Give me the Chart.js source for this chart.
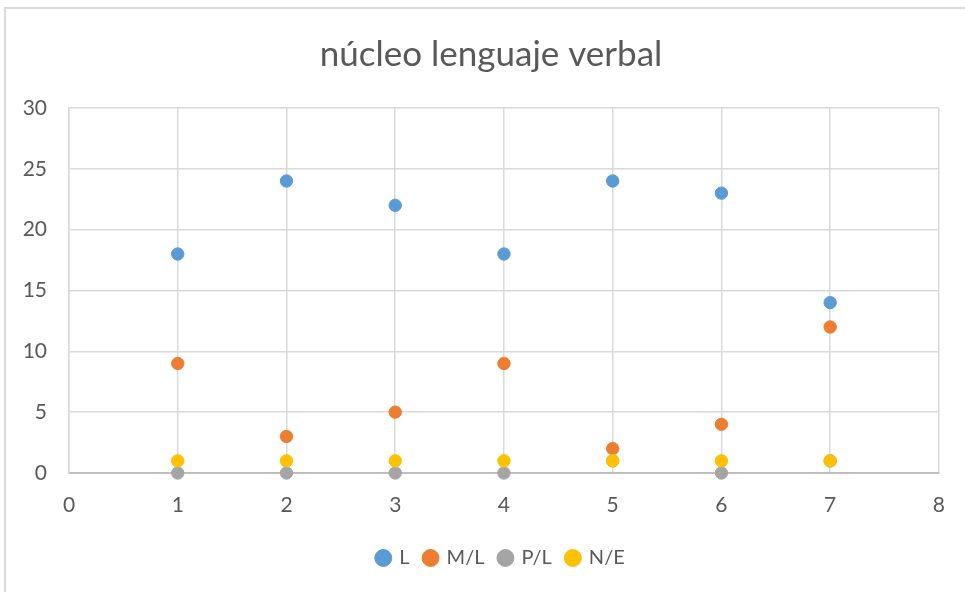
<!DOCTYPE html>
<html>
<head>
<meta charset="utf-8">
<script src="https://cdn.jsdelivr.net/npm/chart.js@4/dist/chart.umd.min.js"></script>
<style>
  body { margin: 0; background: #fff; }
  #wrap { position: absolute; left: 4px; top: 7px; width: 975px; height: 600px; border: 2px solid #d9d9d9; }
  #c { display: block; }
</style>
</head>
<body>
<div id="wrap"><canvas id="c" width="959" height="583"></canvas></div>
<script>
const xValues = [1, 2, 3, 4, 5, 6, 7];
const serieL  = [18, 24, 22, 18, 24, 23, 14];
const serieML = [9, 3, 5, 9, 2, 4, 12];
const seriePL = [0, 0, 0, 0, 1, 0, 1];
const serieNE = [1, 1, 1, 1, 1, 1, 1];

function pts(ys) {
    return ys.map((y, i) => ({ x: xValues[i], y: y }));
}

const txt = '#595959';
const font = 'Lato, "Open Sans", sans-serif';

function ds(label, ys, color, order) {
    return {
        label: label,
        data: pts(ys),
        backgroundColor: color,
        borderColor: color,
        pointRadius: 6.2,
        pointHoverRadius: 6.2,
        clip: false,
        order: order
    };
}

// Excel centres title and legend on the whole frame, not the plot
const shiftBoxes = {
    id: 'shiftBoxes',
    afterLayout(chart) {
        chart.legend.left += 28;
        chart.legend.right += 28;
        chart.titleBlock.left += 18;
        chart.titleBlock.right += 18;
    }
};

new Chart(document.getElementById('c').getContext('2d'), {
    type: 'scatter',
    data: {
        datasets: [
            ds('L', serieL, '#5B9BD5', 3),
            ds('M/L', serieML, '#ED7D31', 2),
            ds('P/L', seriePL, '#A5A5A5', 1),
            ds('N/E', serieNE, '#FFC000', 0)
        ]
    },
    plugins: [shiftBoxes],
    options: {
        responsive: false,
        animation: false,
        layout: { padding: { left: 0, right: 25, top: 0, bottom: 14 } },
        plugins: {
            title: {
                display: true,
                text: 'núcleo lenguaje verbal',
                color: txt,
                font: { family: font, size: 35, weight: 'normal' },
                padding: { top: 25, bottom: 32 }
            },
            legend: {
                position: 'bottom',
                labels: {
                    usePointStyle: true,
                    pointStyle: 'circle',
                    boxWidth: 12,
                    boxHeight: 12,
                    padding: 15,
                    color: txt,
                    font: { family: font, size: 20 },
                    sort: (a, b) => a.datasetIndex - b.datasetIndex
                }
            },
            tooltip: { enabled: false }
        },
        scales: {
            x: {
                type: 'linear',
                min: 0,
                max: 8,
                afterFit: s => { s.height = 60; },
                ticks: { stepSize: 1, color: txt, padding: 20, font: { family: font, size: 21 } },
                grid: { color: '#d9d9d9', lineWidth: 1.5, drawTicks: false },
                border: { color: '#bfbfbf', width: 2 }
            },
            y: {
                min: 0,
                max: 30,
                afterFit: s => { s.width = 63; },
                ticks: { stepSize: 5, color: txt, padding: 22, font: { family: font, size: 21 } },
                grid: { color: '#d9d9d9', lineWidth: 1.5, drawTicks: false },
                border: { color: '#d9d9d9', width: 1.5 }
            }
        }
    }
});
</script>
</body>
</html>
